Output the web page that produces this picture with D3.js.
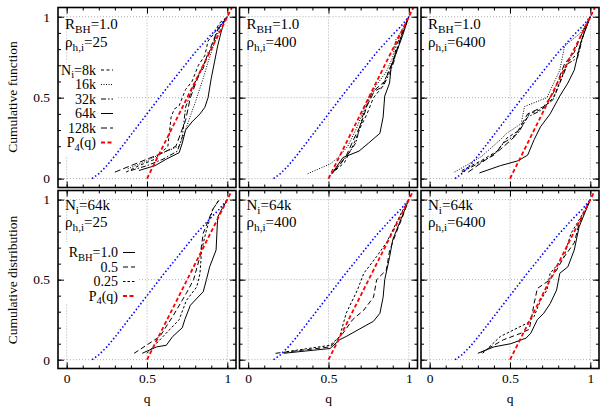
<!DOCTYPE html>
<html>
<head>
<meta charset="utf-8">
<script src="https://cdn.jsdelivr.net/npm/d3@7"></script>
<style>
    body { margin: 0; background: #fff; }
    svg text { font-family: "Liberation Serif", "DejaVu Serif", Times, serif !important; fill: #000; }
</style>
</head>
<body>
<svg id="chart" width="603" height="409"></svg>
<script>
// reference curves, same in every panel
const blueCurve = [[0.158, 0], [0.2, 0.03], [0.25, 0.08], [0.3, 0.14], [0.4, 0.27], [0.5, 0.4], [0.6, 0.53], [0.7, 0.655], [0.8, 0.78], [0.9, 0.89], [0.95, 0.94], [1, 1]];
const p4Curve = [[0.5, 0], [1.06, 1.12]];

// top row: R_BH = 1.0, varying N_i
const top25_8k = [[0.37, 0.04], [0.45, 0.08], [0.55, 0.12], [0.63, 0.2], [0.65, 0.38], [0.67, 0.43], [0.7, 0.45], [0.74, 0.55], [0.78, 0.6], [0.82, 0.7], [0.86, 0.76], [0.88, 0.85], [0.92, 0.9], [0.95, 0.96], [1, 1]];
const top25_16k = [[0.38, 0.06], [0.5, 0.11], [0.6, 0.16], [0.7, 0.2], [0.73, 0.27], [0.76, 0.36], [0.8, 0.47], [0.85, 0.62], [0.88, 0.72], [0.92, 0.84], [0.96, 0.95], [1, 1]];
const top25_32k = [[0.4, 0.05], [0.5, 0.08], [0.6, 0.12], [0.69, 0.17], [0.72, 0.26], [0.74, 0.44], [0.78, 0.55], [0.82, 0.64], [0.85, 0.68], [0.88, 0.78], [0.9, 0.8], [0.94, 0.92], [1, 1]];
const top25_64k = [[0.45, 0.05], [0.55, 0.08], [0.62, 0.12], [0.7, 0.16], [0.72, 0.22], [0.74, 0.3], [0.78, 0.35], [0.83, 0.4], [0.86, 0.44], [0.88, 0.5], [0.9, 0.62], [0.92, 0.72], [0.94, 0.82], [0.96, 0.9], [0.98, 0.97], [1, 1]];
const top25_128k = [[0.3, 0.04], [0.4, 0.08], [0.5, 0.12], [0.6, 0.16], [0.68, 0.2], [0.71, 0.28], [0.74, 0.36], [0.77, 0.5], [0.8, 0.58], [0.84, 0.68], [0.88, 0.76], [0.9, 0.82], [0.94, 0.92], [1, 1]];

const top400_8k = [[0.52, 0.03], [0.6, 0.1], [0.66, 0.22], [0.7, 0.32], [0.74, 0.4], [0.78, 0.5], [0.83, 0.56], [0.86, 0.63], [0.9, 0.72], [0.93, 0.8], [0.96, 0.9], [1, 1]];
const top400_16k = [[0.37, 0.03], [0.51, 0.09], [0.56, 0.13], [0.62, 0.2], [0.67, 0.3], [0.71, 0.4], [0.75, 0.5], [0.8, 0.58], [0.86, 0.66], [0.9, 0.75], [0.92, 0.86], [0.96, 0.92], [1, 1]];
const top400_32k = [[0.53, 0.04], [0.6, 0.12], [0.67, 0.22], [0.71, 0.38], [0.77, 0.53], [0.84, 0.57], [0.88, 0.65], [0.91, 0.73], [0.92, 0.82], [0.95, 0.88], [1, 1]];
const top400_64k = [[0.52, 0.03], [0.59, 0.13], [0.69, 0.17], [0.75, 0.22], [0.82, 0.28], [0.84, 0.38], [0.85, 0.51], [0.88, 0.59], [0.89, 0.69], [0.93, 0.8], [0.96, 0.88], [1, 1]];
const top400_128k = [[0.54, 0.05], [0.61, 0.14], [0.66, 0.25], [0.7, 0.33], [0.74, 0.45], [0.79, 0.55], [0.85, 0.6], [0.89, 0.7], [0.92, 0.78], [0.96, 0.9], [1, 1]];

const top6400_8k = [[0.2, 0.05], [0.32, 0.11], [0.42, 0.17], [0.48, 0.25], [0.56, 0.3], [0.62, 0.4], [0.7, 0.43], [0.77, 0.5], [0.82, 0.62], [0.86, 0.72], [0.92, 0.77], [0.96, 0.9], [1, 1]];
const top6400_16k = [[0.155, 0.04], [0.32, 0.135], [0.44, 0.24], [0.48, 0.28], [0.57, 0.34], [0.59, 0.445], [0.73, 0.5], [0.81, 0.67], [0.84, 0.82], [0.94, 0.9], [1, 1]];
const top6400_32k = [[0.2, 0.04], [0.4, 0.145], [0.46, 0.22], [0.55, 0.28], [0.61, 0.38], [0.69, 0.42], [0.77, 0.49], [0.81, 0.59], [0.86, 0.71], [0.92, 0.745], [0.96, 0.9], [1, 1]];
const top6400_64k = [[0.31, 0.035], [0.44, 0.08], [0.55, 0.11], [0.61, 0.145], [0.65, 0.24], [0.69, 0.32], [0.75, 0.4], [0.81, 0.51], [0.86, 0.59], [0.9, 0.67], [0.94, 0.84], [1, 1]];
const top6400_128k = [[0.24, 0.04], [0.44, 0.18], [0.53, 0.26], [0.61, 0.4], [0.71, 0.445], [0.77, 0.53], [0.84, 0.71], [0.9, 0.78], [0.94, 0.88], [1, 1]];

// bottom row: N_i = 64k, varying R_BH
const bot25_r10 = [[0.47, 0.04], [0.56, 0.08], [0.62, 0.09], [0.66, 0.145], [0.72, 0.2], [0.735, 0.25], [0.77, 0.34], [0.85, 0.425], [0.87, 0.5], [0.89, 0.58], [0.93, 0.685], [0.94, 0.89], [0.96, 0.93], [1, 1]];
const bot25_r05 = [[0.42, 0.04], [0.58, 0.145], [0.66, 0.27], [0.745, 0.415], [0.79, 0.5], [0.83, 0.645], [0.85, 0.79], [0.91, 0.94], [0.95, 1]];
const bot25_r025 = [[0.5, 0.04], [0.6, 0.145], [0.7, 0.25], [0.745, 0.37], [0.81, 0.455], [0.83, 0.54], [0.84, 0.685], [0.87, 0.81], [0.91, 0.94], [0.95, 1]];

const bot400_r10 = [[0.22, 0.04], [0.51, 0.07], [0.57, 0.125], [0.61, 0.145], [0.69, 0.19], [0.78, 0.24], [0.82, 0.29], [0.84, 0.39], [0.85, 0.5], [0.88, 0.64], [0.9, 0.75], [0.94, 0.85], [1, 1]];
const bot400_r05 = [[0.17, 0.04], [0.51, 0.08], [0.59, 0.165], [0.65, 0.25], [0.72, 0.31], [0.78, 0.39], [0.8, 0.5], [0.86, 0.56], [0.88, 0.68], [0.92, 0.79], [0.96, 0.89], [1, 1]];
const bot400_r025 = [[0.24, 0.05], [0.51, 0.09], [0.57, 0.145], [0.61, 0.29], [0.68, 0.435], [0.72, 0.54], [0.8, 0.645], [0.86, 0.73], [0.92, 0.85], [0.96, 0.93], [1, 1]];

const bot6400_r10 = [[0.3, 0.04], [0.4, 0.08], [0.505, 0.1], [0.6, 0.135], [0.63, 0.166], [0.67, 0.25], [0.71, 0.29], [0.75, 0.35], [0.79, 0.435], [0.81, 0.54], [0.86, 0.58], [0.9, 0.685], [0.93, 0.83], [1, 1]];
const bot6400_r05 = [[0.32, 0.045], [0.46, 0.125], [0.57, 0.166], [0.62, 0.19], [0.65, 0.35], [0.67, 0.445], [0.75, 0.5], [0.79, 0.56], [0.835, 0.64], [0.9, 0.73], [0.93, 0.85], [1, 1]];
const bot6400_r025 = [[0.33, 0.04], [0.44, 0.145], [0.53, 0.19], [0.61, 0.23], [0.65, 0.27], [0.69, 0.37], [0.73, 0.435], [0.75, 0.54], [0.835, 0.64], [0.88, 0.79], [0.94, 0.89], [1, 1]];

const densities = ["25", "400", "6400"];
const majorTicks = [0, 0.5, 1];
const minorTicks = d3.range(0, 11).map((d) => d / 10);

const topStyles = [
    { label: "8k", dash: "3,2.5" },
    { label: "16k", dash: "1,1.5" },
    { label: "32k", dash: "5,2,1.5,2" },
    { label: "64k", dash: null },
    { label: "128k", dash: "6,3" }
];
const botStyles = [
    { label: "1.0", dash: null },
    { label: "0.5", dash: "5,3" },
    { label: "0.25", dash: "2.5,2" }
];

const topSeries = [
    [top25_8k, top25_16k, top25_32k, top25_64k, top25_128k],
    [top400_8k, top400_16k, top400_32k, top400_64k, top400_128k],
    [top6400_8k, top6400_16k, top6400_32k, top6400_64k, top6400_128k]
];
const botSeries = [
    [bot25_r10, bot25_r05, bot25_r025],
    [bot400_r10, bot400_r05, bot400_r025],
    [bot6400_r10, bot6400_r05, bot6400_r025]
];

const FONT = '"Liberation Serif", "DejaVu Serif", Times, serif';
const svg = d3.select("#chart").attr("font-family", FONT);
const colLefts = [58, 239.5, 421];
const panelWidth = 178;
const rows = [
    { top: 7.5, height: 180 },
    { top: 190.5, height: 178 }
];

// text with subscript, parts = [main, sub, rest]
const subText = (g, x, y, parts, anchor = "start", size = 14) => {
    const t = g.append("text").attr("x", x).attr("y", y).attr("font-size", size).attr("font-family", FONT).attr("text-anchor", anchor);
    t.append("tspan").text(parts[0]);
    t.append("tspan").attr("font-size", size * 0.75).attr("dy", 3.5).text(parts[1]);
    t.append("tspan").attr("dy", -3.5).text(parts[2]);
    return t;
};

const drawPanel = (rowIndex, colIndex) => {
    const row = rows[rowIndex];
    const left = colLefts[colIndex];
    const x = d3.scaleLinear().domain([-0.054, 1.054]).range([0, panelWidth]);
    const y = d3.scaleLinear().domain([-0.055, 1.057]).range([row.height, 0]);

    const g = svg.append("g").attr("transform", `translate(${left},${row.top})`);
    const clipId = `clip-${rowIndex}-${colIndex}`;
    g.append("clipPath").attr("id", clipId).append("rect").attr("width", panelWidth).attr("height", row.height);

    // grid
    const grid = g.append("g").attr("class", "grid").attr("stroke", "#9a9a9a").attr("stroke-width", 0.8).attr("stroke-dasharray", "1,2");
    majorTicks.forEach((v) => {
        grid.append("line").attr("x1", x(v)).attr("x2", x(v)).attr("y1", 0).attr("y2", row.height);
        grid.append("line").attr("x1", 0).attr("x2", panelWidth).attr("y1", y(v)).attr("y2", y(v));
    });

    // legend box hides grid behind it
    if (colIndex === 0) {
        if (rowIndex === 0) {
            g.append("rect").attr("x", 2).attr("y", 55).attr("width", 58).attr("height", 93).attr("fill", "#fff");
        } else {
            g.append("rect").attr("x", 2).attr("y", 52).attr("width", 78).attr("height", 61).attr("fill", "#fff");
        }
    }

    // ticks, inward on all four sides
    const tickAxis = (axisFn, values, size, transform) => {
        g.append("g")
            .attr("transform", transform)
            .call(axisFn.tickValues(values).tickSize(size).tickFormat(""))
            .call((a) => a.select(".domain").remove())
            .call((a) => a.selectAll("line").attr("stroke", "#000").attr("stroke-width", 1));
    };
    [[minorTicks, 3], [majorTicks, 6]].forEach(([vals, len]) => {
        tickAxis(d3.axisBottom(x), vals, -len, `translate(0,${row.height})`);
        tickAxis(d3.axisTop(x), vals, -len, "translate(0,0)");
        tickAxis(d3.axisLeft(y), vals, -len, "translate(0,0)");
        tickAxis(d3.axisRight(y), vals, -len, `translate(${panelWidth},0)`);
    });

    // curves
    const line = d3.line().x((d) => x(d[0])).y((d) => y(d[1]));
    const plot = g.append("g").attr("clip-path", `url(#${clipId})`).attr("fill", "none");

    const series = rowIndex === 0 ? topSeries[colIndex] : botSeries[colIndex];
    const styles = rowIndex === 0 ? topStyles : botStyles;
    series.forEach((data, i) => {
        plot.append("path")
            .attr("d", line(data))
            .attr("stroke", "#000")
            .attr("stroke-width", 1)
            .attr("stroke-dasharray", styles[i].dash);
    });

    plot.append("path")
        .attr("d", line(blueCurve))
        .attr("stroke", "#0000ff")
        .attr("stroke-width", 1.6)
        .attr("stroke-dasharray", "1.5,2.2");
    plot.append("path")
        .attr("d", line(p4Curve))
        .attr("stroke", "#ff0000")
        .attr("stroke-width", 1.8)
        .attr("stroke-dasharray", "4,2.5");

    // frame
    g.append("rect")
        .attr("width", panelWidth)
        .attr("height", row.height)
        .attr("fill", "none")
        .attr("stroke", "#000")
        .attr("stroke-width", 1.6);

    // panel labels
    if (rowIndex === 0) {
        subText(g, 7, 21.5, ["R", "BH", "=1.0"], "start", 15);
        subText(g, 7, 39.5, ["ρ", "h,i", "=" + densities[colIndex]], "start", 15);
    } else {
        subText(g, 7, 19.5, ["N", "i", "=64k"], "start", 15);
        subText(g, 7, 36.5, ["ρ", "h,i", "=" + densities[colIndex]], "start", 15);
    }

    // legends in first column
    if (colIndex === 0) {
        const legendRows = rowIndex === 0 ? topStyles : botStyles;
        const textX = rowIndex === 0 ? 38 : 60;
        const y0 = rowIndex === 0 ? 67 : 66.5;
        const step = 14.5;
        legendRows.forEach((s, i) => {
            const yy = y0 + i * step;
            if (i === 0) {
                if (rowIndex === 0) subText(g, textX, yy, ["N", "i", "=" + s.label], "end");
                else subText(g, textX, yy, ["R", "BH", "=" + s.label], "end");
            } else {
                g.append("text").attr("x", textX).attr("y", yy).attr("font-size", 14).attr("font-family", FONT).attr("text-anchor", "end").text(s.label);
            }
            g.append("line")
                .attr("x1", textX + 5).attr("x2", textX + 17)
                .attr("y1", yy - 4.5).attr("y2", yy - 4.5)
                .attr("stroke", "#000").attr("stroke-width", 1)
                .attr("stroke-dasharray", s.dash);
        });
        const yy = y0 + legendRows.length * step;
        subText(g, textX, yy, ["P", "4", "(q)"], "end");
        g.append("line")
            .attr("x1", textX + 5).attr("x2", textX + 17)
            .attr("y1", yy - 4.5).attr("y2", yy - 4.5)
            .attr("stroke", "#ff0000").attr("stroke-width", 1.8)
            .attr("stroke-dasharray", "4,2.5");
    }

    // tick labels
    if (colIndex === 0) {
        g.append("g")
            .call(d3.axisLeft(y).tickValues(majorTicks).tickSize(0).tickPadding(8).tickFormat(d3.format("")))
            .call((a) => a.attr("font-family", FONT).select(".domain").remove())
            .selectAll("text")
            .attr("font-size", 13.5);
    }
    if (rowIndex === 1) {
        g.append("g")
            .attr("transform", `translate(0,${row.height})`)
            .call(d3.axisBottom(x).tickValues(majorTicks).tickSize(0).tickPadding(5).tickFormat(d3.format("")))
            .call((a) => a.attr("font-family", FONT).select(".domain").remove())
            .selectAll("text")
            .attr("font-size", 13.5);
        g.append("text")
            .attr("x", x(0.5))
            .attr("y", row.height + 34)
            .attr("font-size", 13.5)
            .attr("font-family", FONT)
            .attr("text-anchor", "middle")
            .text("q");
    }
};

[0, 1].forEach((r) => [0, 1, 2].forEach((c) => drawPanel(r, c)));

// y axis titles
svg.append("text")
    .attr("transform", "translate(17,97) rotate(-90)")
    .attr("font-size", 13.5)
    .attr("font-family", FONT)
    .attr("text-anchor", "middle")
    .text("Cumulative function");
svg.append("text")
    .attr("transform", "translate(17,280) rotate(-90)")
    .attr("font-size", 13.5)
    .attr("font-family", FONT)
    .attr("text-anchor", "middle")
    .text("Cumulative distribution");
</script>
</body>
</html>
